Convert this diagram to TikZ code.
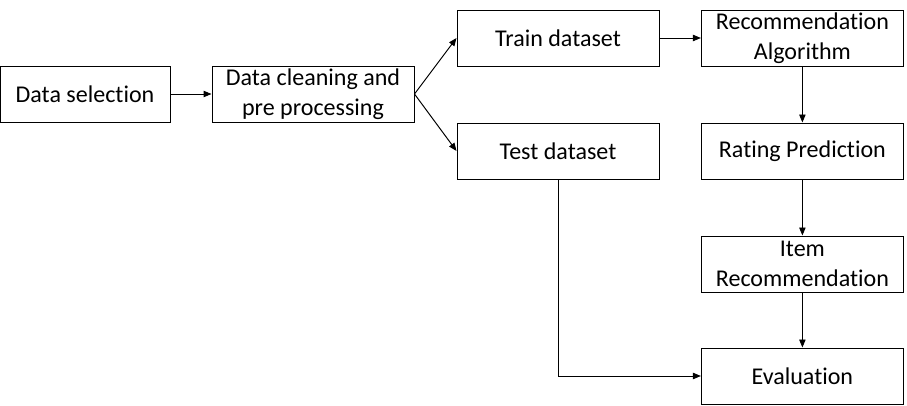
\documentclass[tikz,border=0pt]{standalone}
\usepackage{fontspec}
\setmainfont{Carlito}[Ligatures=NoCommon]
\usetikzlibrary{arrows.meta}
\begin{document}
\begin{tikzpicture}[box/.style={draw,line width=0.7pt,minimum width=5.05cm,minimum height=1.4cm,align=center,inner sep=0pt,font=\fontsize{17.1}{21.3}\selectfont},
arr/.style={-{Triangle[length=2mm,width=1.6mm]},line width=0.7pt}]
\useasboundingbox (0,0) rectangle (22.675,10.125);
\node[box,minimum width=4.25cm] (sel) at (2.125,7.775){Data selection};
\node[box] (clean) at (7.825,7.775){Data cleaning and\\pre processing};
\node[box] (train) at (13.95,9.175){Train dataset};
\node[box] (test) at (13.95,6.35){Test dataset};
\node[box] (alg) at (20.06,9.175){Recommendation\\Algorithm};
\node[box] (rate) at (20.06,6.35){Rating Prediction};
\node[box] (item) at (20.06,3.525){Item\\Recommendation};
\node[box] (eval) at (20.06,0.725){Evaluation};
\draw[arr](sel)--(clean);
\draw[arr](clean.east)--(train.west);
\draw[arr](clean.east)--(test.west);
\draw[arr](train)--(alg);
\draw[arr](alg)--(rate);
\draw[arr](rate)--(item);
\draw[arr](item)--(eval);
\draw[arr](test.south)|-(eval.west);
\end{tikzpicture}
\end{document}
